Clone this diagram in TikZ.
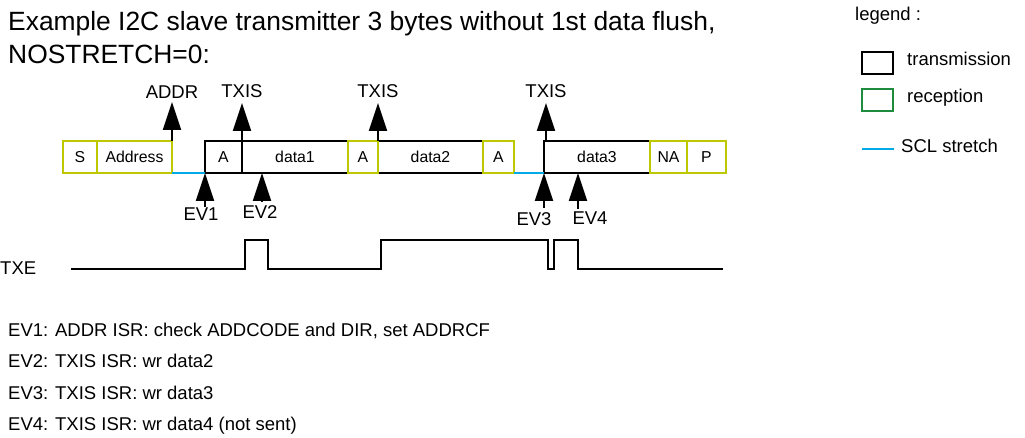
\documentclass[tikz,border=0pt]{standalone}
\usepackage{fontspec}
\setmainfont{Liberation Sans}
\usetikzlibrary{arrows.meta,positioning}
\definecolor{rxlime}{RGB}{190,200,0}
\definecolor{sclblue}{RGB}{0,170,230}
\definecolor{rxgreen}{RGB}{30,140,60}

\begin{document}
\begin{tikzpicture}[x=1pt,y=-1pt,
    txbox/.style={draw=black,line width=2.5pt,minimum height=32pt,inner sep=0pt,outer sep=0pt,
      font=\fontsize{15.8}{18}\selectfont,anchor=west},
    rxbox/.style={txbox,draw=rxlime},
    evarrow/.style={-{Triangle[length=28pt,width=18pt]},line width=2.2pt},
    lbl/.style={font=\fontsize{18.5}{22}\selectfont,inner sep=0pt},
    scl/.style={sclblue,line width=2.5pt}]
        \useasboundingbox (0,0) rectangle (1025,438);
        \node[font=\fontsize{26.4}{30}\selectfont,inner sep=0pt,anchor=base west] (title1) at (8,31) {Example I2C slave transmitter 3 bytes without 1st data flush,};
        \node[font=\fontsize{26.4}{30}\selectfont,inner sep=0pt,anchor=base west] (title2) at (8,64) {NOSTRETCH=0:};
        % frame
        \node[rxbox,minimum width=34pt] (s) at (63,157) {S};
        \node[rxbox,minimum width=75pt] (adr) at (s.east) {Address};
        \node[txbox,minimum width=37pt,right=33pt of adr] (a1) {A};
        \node[txbox,minimum width=106pt] (d1) at (a1.east) {data1};
        \node[txbox,minimum width=105pt,right=30pt of d1] (d2) {data2};
        \node[rxbox,minimum width=30pt] (a2) at (d1.east) {A};
        \node[rxbox,minimum width=31pt] (a3) at (d2.east) {A};
        \node[txbox,minimum width=106pt,right=30pt of a3] (d3) {data3};
        \node[rxbox,minimum width=37pt] (na) at (d3.east) {NA};
        \node[rxbox,minimum width=39pt] (p) at (na.east) {P};
        \draw[scl] (adr.south east) -- (a1.south west);
        \draw[scl] (a3.south east) -- (d3.south west);
        % flags going up
        \coordinate (up1) at (172,102);
        \coordinate (up2) at (242,103);
        \coordinate (up3) at (378,103);
        \coordinate (up4) at (546,103);
        \coordinate (d3top) at (546,141);
        \draw[evarrow] (adr.north east) -- (up1);
        \draw[evarrow] (d1.north west) -- (up2);
        \draw[evarrow] (a2.north east) -- (up3);
        \draw[evarrow] (d3top) -- (up4);
        \node[lbl,above=3pt of up1] (addr) {ADDR};
        \node[lbl,above=5pt of up2] (txis1) {TXIS};
        \node[lbl,above=5pt of up3] (txis2) {TXIS};
        \node[lbl,above=5pt of up4] (txis3) {TXIS};
        % events
        \coordinate (ev1) at (205,207);
        \coordinate (ev2) at (262,202);
        \coordinate (ev3) at (544,208);
        \coordinate (ev4) at (578,209);
        \draw[evarrow] (ev1) -- (a1.south west);
        \draw[evarrow] (ev2) -- (ev2 |- d1.south);
        \draw[evarrow] (ev3) -- (d3.south west);
        \draw[evarrow] (ev4) -- (ev4 |- d3.south);
        \node[lbl,below=1pt of ev1,xshift=-4pt] (l1) {EV1};
        \node[lbl,below=3pt of ev2,xshift=-2pt] (l2) {EV2};
        \node[lbl,below=4pt of ev3,xshift=-10pt] (l3) {EV3};
        \node[lbl,below=3pt of ev4,xshift=12pt] (l4) {EV4};
        % TXE
        \node[lbl,anchor=west] (txe) at (0,268) {TXE};
        \draw[line width=2.5pt] (71,269) -| (245,240) -| (268,269) -| (381,240) -| (548,269) -| (554,240) -| (578,269) -- (723,269);
        % notes
        \foreach \i/\t in {1/{EV1: ADDR ISR: check ADDCODE and DIR, set ADDRCF},2/{EV2: TXIS ISR: wr data2},
          3/{EV3: TXIS ISR: wr data3},4/{EV4: TXIS ISR: wr data4 (not sent)}}{
          \node[lbl,anchor=base west] (note\i) at (8,304.5+31.5*\i) {\t};
        }
        % legend
        \node[lbl,anchor=base west] (legend) at (855,21) {legend :};
        \node[draw=black,line width=2pt,minimum width=31pt,minimum height=22pt,inner sep=0pt] (lgtx) at (877.5,63) {};
        \node[draw=rxgreen,line width=2pt,minimum width=31pt,minimum height=22pt,inner sep=0pt] (lgrx) at (877.5,100.5) {};
        \node[lbl,anchor=base west] (ltx) at (907,66) {transmission};
        \node[lbl,anchor=base west] (lrx) at (907,103) {reception};
        \coordinate (lsa) at (862,149);
        \coordinate (lsb) at (894,149);
        \draw[scl,line width=2pt] (lsa) -- (lsb);
        \node[lbl,anchor=base west] (lscl) at (901,153) {SCL stretch};
      \end{tikzpicture}
\end{document}
